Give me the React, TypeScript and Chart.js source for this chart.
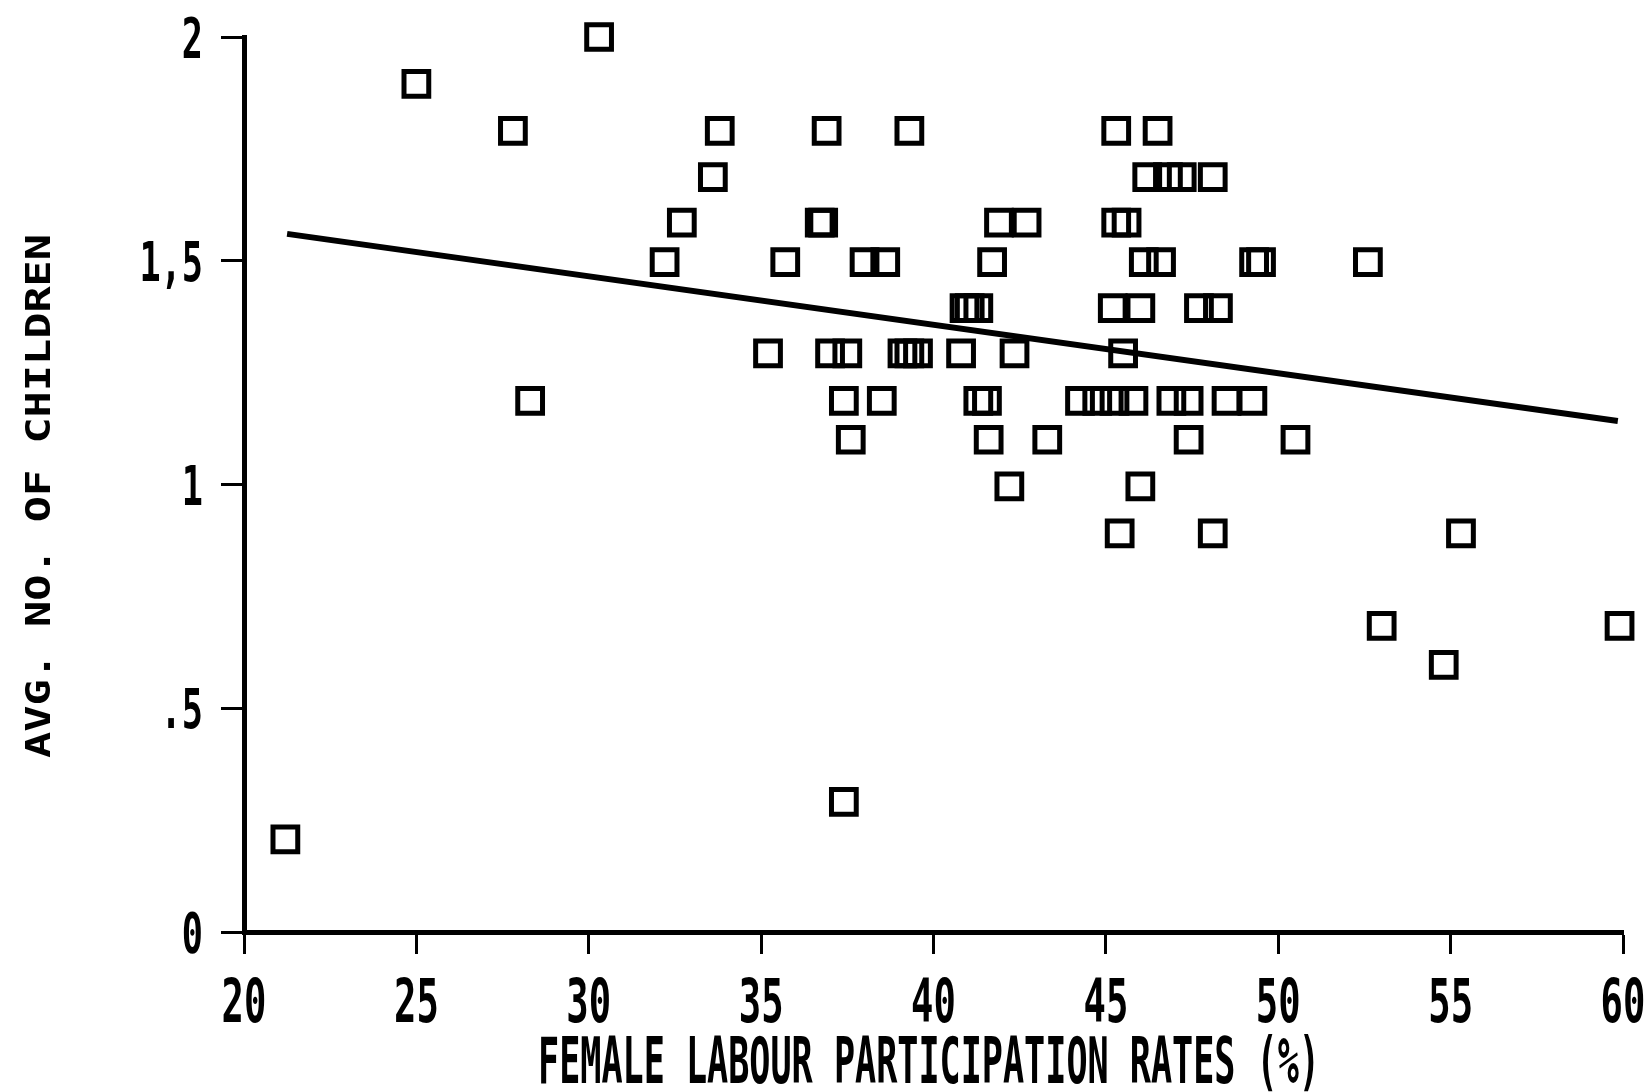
import React, { useEffect, useRef } from "react";
import { Chart, registerables } from "chart.js";

Chart.register(...registerables);

// Axis ticks and labels
const xTickValues = [20, 25, 30, 35, 40, 45, 50, 55, 60];
const xTickLabels = ["20", "25", "30", "35", "40", "45", "50", "55", "60"];
const yTickValues = [0, 0.5, 1, 1.5, 2];
const yTickLabels = ["0", ".5", "1", "1,5", "2"];

const xTitle = "FEMALE LABOUR PARTICIPATION RATES (%)";
const yTitle = "AVG. NO. OF CHILDREN";

// Female labour participation rate (%) for each observation
const participation = [
  30.3,
  25.0,
  27.8, 33.8, 36.9, 39.3, 45.3, 46.5,
  33.6, 46.2, 46.8, 47.2, 48.1,
  32.7, 36.7, 36.8, 41.9, 42.7, 45.3, 45.6,
  32.2, 35.7, 38.0, 38.6, 41.7, 46.1, 46.6, 49.3, 49.5, 52.6,
  40.9, 41.05, 41.3, 45.2, 46.0, 47.7, 48.25,
  35.2, 37.0, 37.5, 39.1, 39.3, 39.55, 40.8, 42.35, 45.5,
  28.3, 37.4, 38.5, 41.3, 41.55, 44.25, 44.75, 45.25, 45.8, 46.9, 47.4, 48.5, 49.25,
  37.6, 41.6, 43.3, 47.4, 50.5,
  42.2, 46.0,
  45.4, 48.1, 55.3,
  53.0, 59.9,
  54.8,
  37.4,
  21.2,
];

// Average number of children for each observation
const children = [
  2.0,
  1.895,
  1.79, 1.79, 1.79, 1.79, 1.79, 1.79,
  1.687, 1.687, 1.687, 1.687, 1.687,
  1.585, 1.585, 1.585, 1.585, 1.585, 1.585, 1.585,
  1.497, 1.497, 1.497, 1.497, 1.497, 1.497, 1.497, 1.497, 1.497, 1.497,
  1.394, 1.394, 1.394, 1.394, 1.394, 1.394, 1.394,
  1.293, 1.293, 1.293, 1.293, 1.293, 1.293, 1.293, 1.293, 1.293,
  1.187, 1.187, 1.187, 1.187, 1.187, 1.187, 1.187, 1.187, 1.187, 1.187, 1.187, 1.187, 1.187,
  1.1, 1.1, 1.1, 1.1, 1.1,
  0.996, 0.996,
  0.891, 0.891, 0.891,
  0.684, 0.684,
  0.597,
  0.291,
  0.207,
];

// Fitted regression line end points
const fitX = [21.25, 59.85];
const fitY = [1.56, 1.142];

const FONT = "'DejaVu Sans Mono', monospace";

function drawSqueezed(
  ctx: CanvasRenderingContext2D,
  text: string,
  x: number,
  y: number,
  size: number,
  opts: { scaleX?: number; width?: number; align?: CanvasTextAlign; rotate?: boolean }
) {
  ctx.save();
  ctx.font = `bold ${size}px ${FONT}`;
  const measured = ctx.measureText(text).width;
  const sx = opts.width ? opts.width / measured : opts.scaleX ?? 1;
  ctx.translate(x, y);
  if (opts.rotate) ctx.rotate(-Math.PI / 2);
  ctx.scale(sx, 1);
  ctx.fillStyle = "#000";
  ctx.textAlign = opts.align ?? "center";
  ctx.textBaseline = "alphabetic";
  ctx.fillText(text, 0, 0);
  ctx.restore();
}

// Draws tick labels and axis titles in a tall, narrow printer-style lettering
const labelPlugin = {
  id: "condensedLabels",
  afterDraw(chart: any) {
    const ctx = chart.ctx as CanvasRenderingContext2D;
    const xs = chart.scales.x;
    const ys = chart.scales.y;
    xTickValues.forEach((v, i) => {
      drawSqueezed(ctx, xTickLabels[i], xs.getPixelForValue(v), 1022, 60, { scaleX: 0.62 });
    });
    yTickValues.forEach((v, i) => {
      drawSqueezed(ctx, yTickLabels[i], 203, ys.getPixelForValue(v) + 20, 55, {
        scaleX: 0.64,
        align: "right",
      });
    });
    drawSqueezed(ctx, xTitle, 929, 1083, 64, { width: 782 });
    drawSqueezed(ctx, yTitle, 50, 496, 33, { width: 524, rotate: true });
  },
};

export default function App() {
  const canvasRef = useRef<HTMLCanvasElement | null>(null);

  useEffect(() => {
    const canvas = canvasRef.current;
    if (!canvas) return;
    const points = participation.map((x, i) => ({ x, y: children[i] }));
    const fit = fitX.map((x, i) => ({ x, y: fitY[i] }));

    const chart = new Chart(canvas, {
      type: "scatter",
      data: {
        datasets: [
          {
            type: "line",
            label: "fit",
            data: fit,
            borderColor: "#000",
            borderWidth: 6,
            pointRadius: 0,
            fill: false,
            clip: false,
          } as any,
          {
            label: "countries",
            data: points,
            pointStyle: "rect",
            pointRadius: 17.5,
            pointBorderWidth: 5,
            pointBorderColor: "#000",
            pointBackgroundColor: "rgba(0,0,0,0)",
            clip: false,
          } as any,
        ],
      },
      options: {
        responsive: false,
        animation: false,
        events: [],
        layout: { padding: { left: 0, top: 37, right: 26, bottom: 0 } },
        plugins: {
          legend: { display: false },
          tooltip: { enabled: false },
          title: { display: false },
        },
        scales: {
          x: {
            type: "linear",
            min: 20,
            max: 60,
            afterBuildTicks: (scale: any) => {
              scale.ticks = xTickValues.map((value) => ({ value }));
            },
            afterFit: (scale: any) => {
              scale.height = 160;
            },
            ticks: { display: false },
            grid: {
              display: true,
              drawOnChartArea: false,
              drawTicks: true,
              tickLength: 22,
              tickWidth: 3,
              tickColor: "#000",
            },
            border: { display: true, color: "#000", width: 5 },
          },
          y: {
            type: "linear",
            min: 0,
            max: 2,
            afterBuildTicks: (scale: any) => {
              scale.ticks = yTickValues.map((value) => ({ value }));
            },
            afterFit: (scale: any) => {
              scale.width = 244;
            },
            ticks: { display: false },
            grid: {
              display: true,
              drawOnChartArea: false,
              drawTicks: true,
              tickLength: 23,
              tickWidth: 3,
              tickColor: "#000",
            },
            border: { display: true, color: "#000", width: 5 },
          },
        },
      },
      plugins: [labelPlugin],
    });

    return () => chart.destroy();
  }, []);

  return (
    <div style={{ position: "fixed", left: 0, top: 0, width: 1649, height: 1092, background: "#fff" }}>
      <canvas ref={canvasRef} width={1649} height={1092} />
    </div>
  );
}
